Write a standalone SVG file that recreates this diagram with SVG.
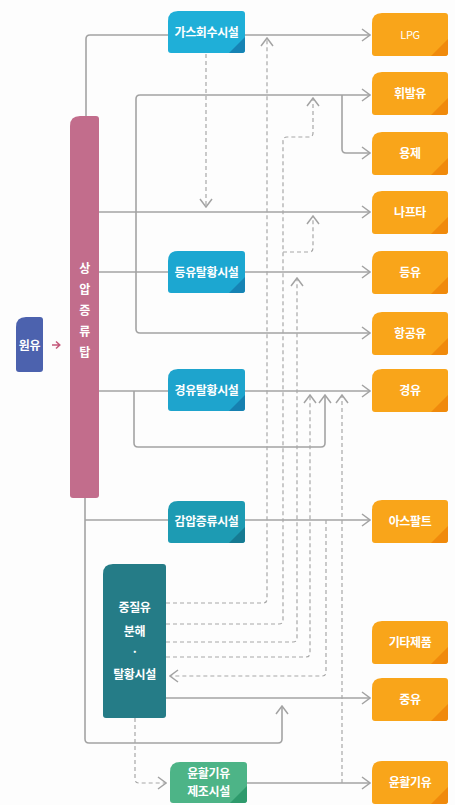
<svg xmlns="http://www.w3.org/2000/svg" xmlns:xlink="http://www.w3.org/1999/xlink" width="455" height="805" viewBox="0 0 455 805">
<style>
.ln{fill:none;stroke:#a3a3a3;stroke-width:1.6}
.dl{fill:none;stroke:#a8a8a8;stroke-width:1.2;stroke-dasharray:4 3}
.t{font-family:"Noto Sans CJK KR","Noto Sans",sans-serif;font-weight:bold;fill:#fff;text-anchor:middle;font-size:12px;letter-spacing:-0.4px}
.or{fill:#f9a51a}.ord{fill:#f08a0c}
.tl{fill:#1eaad3}.tld{fill:#1683b4}
</style>
<defs>
<marker id="ah" viewBox="-9 -7 10 14" refX="0" refY="0" markerWidth="10" markerHeight="14" markerUnits="userSpaceOnUse" orient="auto">
<path d="M-8,-6 L0,0 L-8,6" fill="none" stroke="#a3a3a3" stroke-width="1.5"/>
</marker>
<path id="ob" d="M0 10 Q0 0 10 0 H73 Q76 0 76 3 V40 Q76 43 73 43 H3 Q0 43 0 40 Z"/>
<path id="obt" d="M76 26 V40 Q76 43 73 43 H59 Z"/>
<path id="tb" d="M0 10 Q0 0 10 0 H74 Q77 0 77 3 V39 Q77 42 74 42 H3 Q0 42 0 39 Z"/>
<path id="tbt" d="M77 26 V39 Q77 42 74 42 H61 Z"/>
</defs>
<rect width="455" height="805" fill="#fdfdfd"/>

<g id="connectors">
<path class="ln" d="M86 116 V39 Q86 35 90 35 H370" marker-end="url(#ah)"/>
<path class="ln" d="M136 212 V99 Q136 95 140 95 H370" marker-end="url(#ah)"/>
<path class="ln" d="M136 212 V329 Q136 333 140 333 H370" marker-end="url(#ah)"/>
<path class="ln" d="M342 95 V149 Q342 153 346 153 H370" marker-end="url(#ah)"/>
<path class="ln" d="M99 212 H370" marker-end="url(#ah)"/>
<path class="ln" d="M99 272 H370" marker-end="url(#ah)"/>
<path class="ln" d="M99 391 H370" marker-end="url(#ah)"/>
<path class="ln" d="M134 391 V443 Q134 447 138 447 H321 Q325 447 325 443 V395" marker-end="url(#ah)"/>
<path class="ln" d="M85 498 V739 Q85 743 89 743 H278 Q282 743 282 739 V706" marker-end="url(#ah)"/>
<path class="ln" d="M85 520 H370" marker-end="url(#ah)"/>
<path class="ln" d="M166 698 H370" marker-end="url(#ah)"/>
<path class="ln" d="M247 783 H370" marker-end="url(#ah)"/>
<path class="dl" d="M206 54 V207" marker-end="url(#ah)"/>
<path class="dl" d="M166 603 H263 Q267 603 267 599 V38" marker-end="url(#ah)"/>
<path class="dl" d="M166 624 H279 Q283 624 283 620 V141 Q283 137 287 137 H309 Q313 137 313 133 V98" marker-end="url(#ah)"/>
<path class="dl" d="M283 252 H309 Q313 252 313 248 V216" marker-end="url(#ah)"/>
<path class="dl" d="M166 642 H293 Q297 642 297 638 V278" marker-end="url(#ah)"/>
<path class="dl" d="M166 657 H306 Q310 657 310 653 V395" marker-end="url(#ah)"/>
<path class="dl" d="M326 520 V672 Q326 676 322 676 H170" marker-end="url(#ah)"/>
<path class="dl" d="M342 783 V395" marker-end="url(#ah)"/>
<path class="dl" d="M135 718 V779 Q135 783 139 783 H166" marker-end="url(#ah)"/>
<path d="M52 345 H59.5 M56 341.5 L59.8 345 L56 348.5" fill="none" stroke="#c4587a" stroke-width="1.5"/>
</g>

<g id="n-crude">
<path d="M16 327 Q16 317 26 317 H40 Q43 317 43 320 V369 Q43 372 40 372 H19 Q16 372 16 369 Z" fill="#4c62ae"/>
<text class="t" x="29.5" y="349.5">원유</text>
</g>

<g id="n-column">
<path d="M70 126 Q70 116 80 116 H96 Q99 116 99 119 V495 Q99 498 96 498 H73 Q70 498 70 495 Z" fill="#c26d8c"/>
<text class="t" x="84.5" y="272.5">상</text>
<text class="t" x="84.5" y="293.5">압</text>
<text class="t" x="84.5" y="314.5">증</text>
<text class="t" x="84.5" y="335.5">류</text>
<text class="t" x="84.5" y="356.5">탑</text>
</g>

<g id="n-gas">
<use xlink:href="#tb" x="168" y="11" fill="#1fafd8"/>
<use xlink:href="#tbt" x="168" y="11" fill="#1683b4"/>
<text class="t" x="206.5" y="37">가스회수시설</text>
</g>
<g id="n-kero">
<use xlink:href="#tb" x="168" y="251" fill="#1ca7d1"/>
<use xlink:href="#tbt" x="168" y="251" fill="#1683b4"/>
<text class="t" x="206.5" y="276.5">등유탈황시설</text>
</g>
<g id="n-diesel">
<use xlink:href="#tb" x="168" y="369" fill="#1ea4cd"/>
<use xlink:href="#tbt" x="168" y="369" fill="#1680b0"/>
<text class="t" x="206.5" y="394.5">경유탈황시설</text>
</g>
<g id="n-vacuum">
<use xlink:href="#tb" x="168" y="501" fill="#1d9bb3"/>
<use xlink:href="#tbt" x="168" y="501" fill="#167a92"/>
<text class="t" x="206.5" y="526">감압증류시설</text>
</g>
<g id="n-heavy">
<path d="M103 574 Q103 564 113 564 H163 Q166 564 166 567 V715 Q166 718 163 718 H106 Q103 718 103 715 Z" fill="#257c87"/>
<text class="t" x="134.5" y="612">중질유</text>
<text class="t" x="134.5" y="636">분해</text>
<text class="t" x="134.5" y="656">·</text>
<text class="t" x="134.5" y="679">탈황시설</text>
</g>
<g id="n-lube">
<path d="M170 772 Q170 762 180 762 H244 Q247 762 247 765 V800 Q247 803 244 803 H173 Q170 803 170 800 Z" fill="#4db487"/>
<path d="M247 786 V800 Q247 803 244 803 H230 Z" fill="#2e9a6c"/>
<text class="t" x="208.5" y="777.5">윤활기유</text>
<text class="t" x="208.5" y="796">제조시설</text>
</g>

<g id="p-lpg"><use xlink:href="#ob" x="372" y="13" class="or"/><use xlink:href="#obt" x="372" y="13" class="ord"/><text class="t" x="410" y="39" style="font-size:11px;font-weight:normal">LPG</text></g>
<g id="p-gasoline"><use xlink:href="#ob" x="372" y="72" class="or"/><use xlink:href="#obt" x="372" y="72" class="ord"/><text class="t" x="410" y="98">휘발유</text></g>
<g id="p-solvent"><use xlink:href="#ob" x="372" y="132" class="or"/><use xlink:href="#obt" x="372" y="132" class="ord"/><text class="t" x="410" y="158">용제</text></g>
<g id="p-naphtha"><use xlink:href="#ob" x="372" y="191" class="or"/><use xlink:href="#obt" x="372" y="191" class="ord"/><text class="t" x="410" y="217">나프타</text></g>
<g id="p-kerosene"><use xlink:href="#ob" x="372" y="251" class="or"/><use xlink:href="#obt" x="372" y="251" class="ord"/><text class="t" x="410" y="277">등유</text></g>
<g id="p-jet"><use xlink:href="#ob" x="372" y="312" class="or"/><use xlink:href="#obt" x="372" y="312" class="ord"/><text class="t" x="410" y="338">항공유</text></g>
<g id="p-diesel"><use xlink:href="#ob" x="372" y="369" class="or"/><use xlink:href="#obt" x="372" y="369" class="ord"/><text class="t" x="410" y="395">경유</text></g>
<g id="p-asphalt"><use xlink:href="#ob" x="372" y="500" class="or"/><use xlink:href="#obt" x="372" y="500" class="ord"/><text class="t" x="410" y="526">아스팔트</text></g>
<g id="p-other"><use xlink:href="#ob" x="372" y="621" class="or"/><use xlink:href="#obt" x="372" y="621" class="ord"/><text class="t" x="410" y="647">기타제품</text></g>
<g id="p-fuel"><use xlink:href="#ob" x="372" y="678" class="or"/><use xlink:href="#obt" x="372" y="678" class="ord"/><text class="t" x="410" y="704">중유</text></g>
<g id="p-lube"><use xlink:href="#ob" x="372" y="761" class="or"/><use xlink:href="#obt" x="372" y="761" class="ord"/><text class="t" x="410" y="787">윤활기유</text></g>
</svg>
